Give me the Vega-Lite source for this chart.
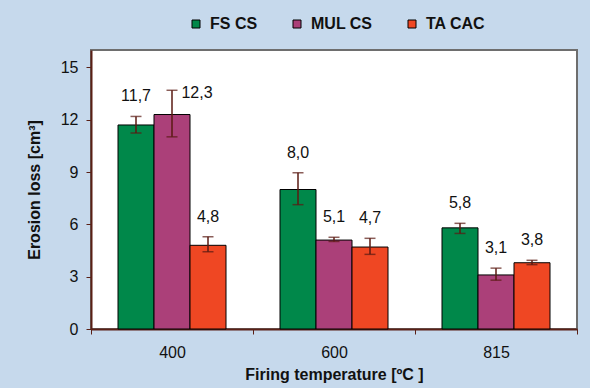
{
  "$schema": "https://vega.github.io/schema/vega-lite/v6.json",
  "width": 486,
  "height": 279,
  "autosize": "none",
  "padding": {"left": 91, "top": 50, "right": 13, "bottom": 59},
  "background": "#c6d9ec",
  "config": {
    "font": "Liberation Sans",
    "view": {"fill": "white", "stroke": "#6e6e6e", "strokeWidth": 2},
    "locale": {"number": {"decimal": ",", "thousands": ".", "grouping": [3], "currency": ["", " €"]}},
    "axis": {
      "domainColor": "#5a2016",
      "domainWidth": 2,
      "tickColor": "#5a2016",
      "tickSize": 5,
      "labelFont": "Liberation Sans",
      "labelFontSize": 16,
      "labelColor": "#111111",
      "titleFont": "Liberation Sans",
      "titleFontSize": 16,
      "titleFontWeight": "bold",
      "titleColor": "#111111",
      "grid": false
    }
  },
  "data": {
    "values": [
      {"temp": "400", "series": "FS CS", "value": 11.7, "lo": 11.24, "hi": 12.19},
      {"temp": "400", "series": "MUL CS", "value": 12.3, "lo": 11.02, "hi": 13.69},
      {"temp": "400", "series": "TA CAC", "value": 4.8, "lo": 4.43, "hi": 5.29},
      {"temp": "600", "series": "FS CS", "value": 8.0, "lo": 7.13, "hi": 8.96},
      {"temp": "600", "series": "MUL CS", "value": 5.1, "lo": 5.02, "hi": 5.26},
      {"temp": "600", "series": "TA CAC", "value": 4.7, "lo": 4.28, "hi": 5.2},
      {"temp": "815", "series": "FS CS", "value": 5.8, "lo": 5.48, "hi": 6.06},
      {"temp": "815", "series": "MUL CS", "value": 3.1, "lo": 2.8, "hi": 3.49},
      {"temp": "815", "series": "TA CAC", "value": 3.8, "lo": 3.69, "hi": 3.94}
    ]
  },
  "encoding": {
    "x": {
      "field": "temp",
      "type": "nominal",
      "scale": {"paddingInner": 0, "paddingOuter": 0},
      "axis": {"title": "Firing temperature [ºC ]", "labelAngle": 0, "tickBand": "extent", "labelPadding": 10, "titlePadding": 6}
    },
    "xOffset": {
      "field": "series",
      "type": "nominal",
      "scale": {"paddingInner": 0, "paddingOuter": 0.75}
    }
  },
  "layer": [
    {
      "mark": {"type": "bar", "stroke": "#000000", "strokeWidth": 1},
      "encoding": {
        "y": {
          "field": "value",
          "type": "quantitative",
          "scale": {"domain": [0, 15]},
          "axis": {"title": "Erosion loss [cm³]", "values": [0, 3, 6, 9, 12, 15], "labelPadding": 8, "titlePadding": 18}
        },
        "color": {
          "field": "series",
          "type": "nominal",
          "scale": {"domain": ["FS CS", "MUL CS", "TA CAC"], "range": ["#00884a", "#ab4079", "#ef4723"]},
          "legend": {
            "title": null,
            "orient": "none",
            "legendX": 97,
            "legendY": -34,
            "direction": "horizontal",
            "symbolType": "square",
            "symbolSize": 64,
            "symbolStrokeColor": "#000000",
            "symbolStrokeWidth": 1,
            "symbolOpacity": 1,
            "labelFont": "Liberation Sans",
            "labelFontSize": 16,
            "labelFontWeight": "bold",
            "labelColor": "#111111",
            "labelOffset": 6,
            "columnPadding": 31
          }
        }
      }
    },
    {
      "mark": {"type": "rule", "color": "#5a1a12", "strokeWidth": 1.5},
      "encoding": {
        "y": {"field": "lo", "type": "quantitative"},
        "y2": {"field": "hi"}
      }
    },
    {
      "mark": {"type": "tick", "color": "#5a1a12", "size": 11, "thickness": 1.5},
      "encoding": {"y": {"field": "lo", "type": "quantitative"}}
    },
    {
      "mark": {"type": "tick", "color": "#5a1a12", "size": 11, "thickness": 1.5},
      "encoding": {"y": {"field": "hi", "type": "quantitative"}}
    },
    {
      "transform": [{"filter": "!(datum.temp == '400' && datum.series == 'MUL CS')"}],
      "mark": {"type": "text", "fontSize": 16, "color": "#111111", "baseline": "middle", "dy": -20},
      "encoding": {
        "y": {"field": "hi", "type": "quantitative"},
        "text": {"field": "value", "type": "quantitative", "format": ".1f"}
      }
    },
    {
      "transform": [{"filter": "datum.temp == '400' && datum.series == 'MUL CS'"}],
      "mark": {"type": "text", "fontSize": 16, "color": "#111111", "baseline": "middle", "dx": 25, "dy": 3},
      "encoding": {
        "y": {"field": "hi", "type": "quantitative"},
        "text": {"field": "value", "type": "quantitative", "format": ".1f"}
      }
    }
  ]
}
